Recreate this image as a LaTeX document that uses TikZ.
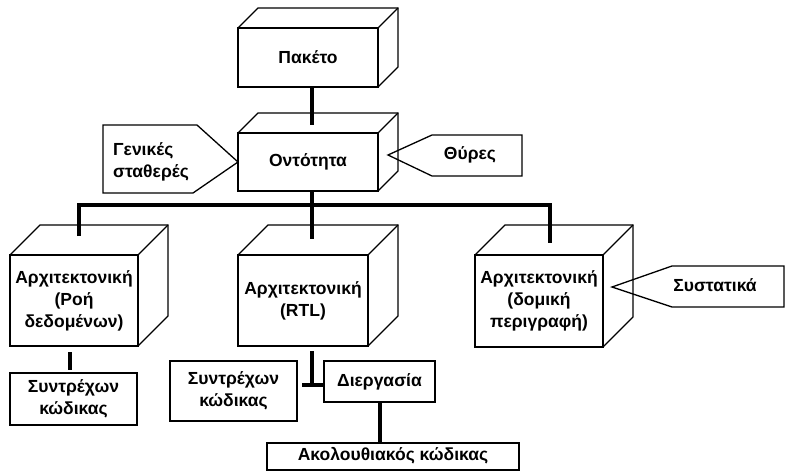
\documentclass[tikz,border=0pt]{standalone}
\usepackage{fontspec}
\setmainfont{Liberation Sans}
\usetikzlibrary{calc}
\newcommand\cubeside[2]{%
  \draw[depthline] (#1.north west) -- ++(#2pt,#2pt) -- ($(#1.north east)+(#2pt,#2pt)$) -- ($(#1.south east)+(#2pt,#2pt)$) -- (#1.south east);
  \draw[depthline] (#1.north east) -- ++(#2pt,#2pt);}
\begin{document}
\begin{tikzpicture}[x=1pt,y=-1pt,
  txt/.style={font=\bfseries\fontsize{17.5}{22}\selectfont},
  box/.style={draw, line width=1.6pt, rectangle, inner sep=0pt, outer sep=0pt, align=center, txt},
  depthline/.style={line width=1.1pt, line join=miter},
  conn/.style={line width=3.5pt},
  tag/.style={draw, line width=1.3pt, line join=miter},
  lbl/.style={txt, inner sep=0pt}]
\useasboundingbox (0,0) rectangle (785,471);

% cubes
\node[box, minimum width=140pt, minimum height=59pt] (pak) at (308,57.5) {Πακέτο};
\cubeside{pak}{20}
\node[box, minimum width=140pt, minimum height=58pt] (ont) at (308,162) {Οντότητα};
\cubeside{ont}{20}
\node[box, minimum width=128pt, minimum height=91pt] (ad) at (74,300.5) {Αρχιτεκτονική\\(Ροή\\δεδομένων)};
\cubeside{ad}{30}
\node[box, minimum width=130pt, minimum height=91pt] (ar) at (303,300.5) {Αρχιτεκτονική\\(RTL)};
\cubeside{ar}{30}
\node[box, minimum width=128pt, minimum height=92pt] (as) at (539,301) {Αρχιτεκτονική\\(δομική\\περιγραφή)};
\cubeside{as}{30}

% plain boxes
\node[box, minimum width=127pt, minimum height=52pt] (sk1) at (73.5,399) {Συντρέχων\\κώδικας};
\node[box, minimum width=127pt, minimum height=60pt] (sk2) at (233.5,391) {Συντρέχων\\κώδικας};
\node[box, minimum width=111pt, minimum height=41pt] (dier) at (379.5,381.5) {Διεργασία};
\node[box, minimum width=252pt, minimum height=27pt, anchor=north] (akol) at (393,443) {};
\node[lbl] at (393,456) {Ακολουθιακός κώδικας};

% callouts
\node[lbl, align=left] (gen) at (151,162) {Γενικές\\σταθερές};
\draw[tag] (103,125) -- (197,125) -- (ont.west) -- (193,193) -- (103,193) -- cycle;
\node[lbl] (thy) at (470,155) {Θύρες};
\draw[tag] (388,155) -- (432,135) -- (522,135) -- (522,176) -- (432,176) -- cycle;
\node[lbl] (sys) at (715,285) {Συστατικά};
\draw[tag] (612,287) -- (672,266) -- (784,266) -- (784,307) -- (672,307) -- cycle;

% connectors
\coordinate (pakin) at (312,125);
\coordinate (busL) at (79,205);
\coordinate (busC) at (312,205);
\coordinate (busR) at (550,205);
\coordinate (dropL) at (79,236);
\coordinate (dropC) at (312,239);
\coordinate (dropR) at (550,243);
\draw[conn] (pak.south -| pakin) -- (pakin);
\draw[conn] (ont.south -| busC) -- (dropC);
\draw[conn, line join=miter] (dropL) -- (busL) -- (busR) -- (dropR);

\coordinate (l1) at (70,352);
\coordinate (l2) at (70,370);
\draw[conn] (l1) -- (l2);
\coordinate (c1) at (312,351);
\coordinate (c2) at (312,385);
\coordinate (t1) at (302,385);
\coordinate (t2) at (323,385);
\draw[conn] (c1) -- (c2);
\draw[conn] (t1) -- (t2);
\draw[conn] (dier.south -| akol.north) ++(-13pt,0) coordinate (dx) -- (dx |- akol.north);
\end{tikzpicture}
\end{document}
